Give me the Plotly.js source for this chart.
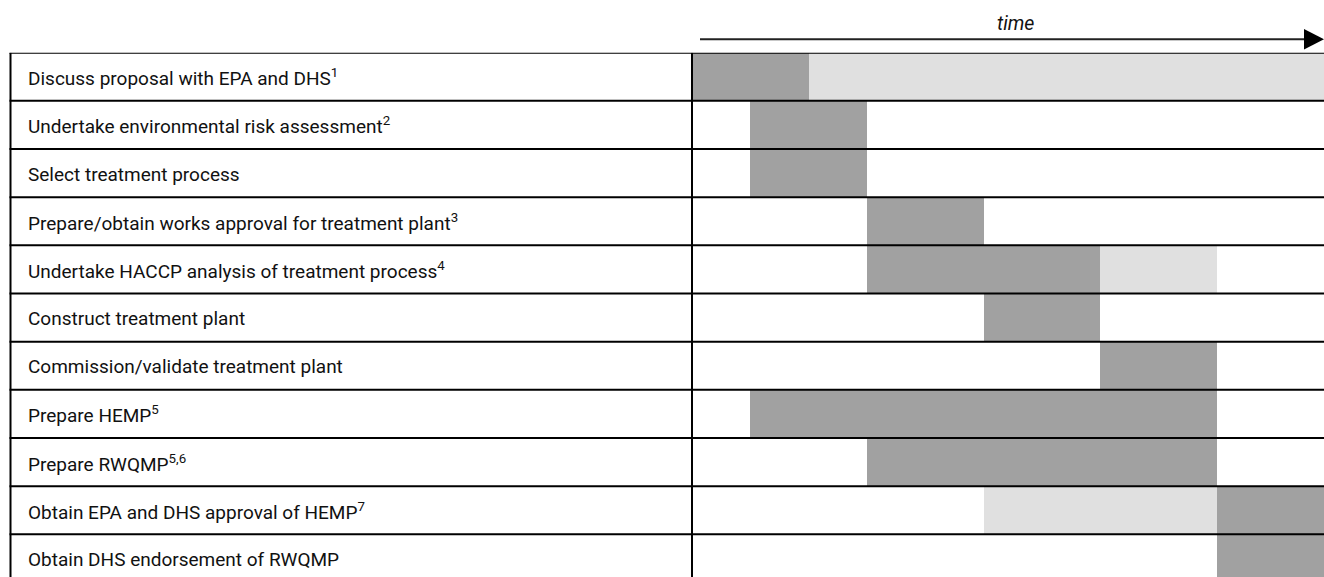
<!DOCTYPE html>
<html>
<head>
<meta charset="utf-8">
<script src="https://cdn.plot.ly/plotly-3.0.1.min.js"></script>
<style>html,body{margin:0;padding:0;background:#fff;}#chart{width:1324px;height:577px;}</style>
</head>
<body>
<div id="chart"></div>
<script>
// Tasks (rows, top to bottom)
const tasks = [
  "Discuss proposal with EPA and DHS<sup>1</sup>",
  "Undertake environmental risk assessment<sup>2</sup>",
  "Select treatment process",
  "Prepare/obtain works approval for treatment plant<sup>3</sup>",
  "Undertake HACCP analysis of treatment process<sup>4</sup>",
  "Construct treatment plant",
  "Commission/validate treatment plant",
  "Prepare HEMP<sup>5</sup>",
  "Prepare RWQMP<sup>5,6</sup>",
  "Obtain EPA and DHS approval of HEMP<sup>7</sup>",
  "Obtain DHS endorsement of RWQMP"
];
// Main activity periods (dark), in time periods
const activeStart = [0, 1, 1, 3, 3, 5, 7, 1, 3, 9, 9];
const activeEnd   = [2, 3, 3, 5, 7, 7, 9, 9, 9, 11, 11];
// Ongoing / follow-up periods (light); null = none
const ongoingStart = [2, null, null, null, 7, null, null, null, null, 5, null];
const ongoingEnd   = [11, null, null, null, 9, null, null, null, null, 9, null];
const axisLabel = "time";

const W = 1324, H = 577;
const plotLeft = 692, plotTop = 52.7, colW = 58.3, rowH = 48.16, tableLeft = 10.5;
const nRows = tasks.length;
const rowY = tasks.map((t, i) => i + 0.5);
const FONT = 'Roboto, "Open Sans", sans-serif';

const dark = {
  type: 'bar', orientation: 'h',
  y: rowY,
  base: activeStart,
  x: activeStart.map((s, i) => activeEnd[i] - s),
  width: 1,
  marker: {color: '#a1a1a1', line: {width: 0}},
  hoverinfo: 'skip', showlegend: false
};
const lightIdx = ongoingStart.map((s, i) => s === null ? -1 : i).filter(i => i >= 0);
const light = {
  type: 'bar', orientation: 'h',
  y: lightIdx.map(i => rowY[i]),
  base: lightIdx.map(i => ongoingStart[i]),
  x: lightIdx.map(i => ongoingEnd[i] - ongoingStart[i]),
  width: 1,
  marker: {color: '#e0e0e0', line: {width: 0}},
  hoverinfo: 'skip', showlegend: false
};

const px = x => x / W;
const py = y => 1 - y / H;

const shapes = [];
for (let k = 0; k <= nRows; k++) {
  shapes.push({type: 'line', xref: 'paper', yref: 'y', x0: px(tableLeft - 1), x1: 1, y0: k, y1: k,
    line: {color: '#000', width: 2}, layer: 'above'});
}
// vertical borders
shapes.push({type: 'line', xref: 'paper', yref: 'y', x0: px(tableLeft), x1: px(tableLeft), y0: 0, y1: nRows,
  line: {color: '#000', width: 2}, layer: 'above'});
shapes.push({type: 'line', xref: 'paper', yref: 'y', x0: px(plotLeft), x1: px(plotLeft), y0: 0, y1: nRows,
  line: {color: '#000', width: 2}, layer: 'above'});
// time arrow
shapes.push({type: 'line', xref: 'paper', yref: 'paper', x0: px(700), x1: px(1306), y0: py(39.3), y1: py(39.3),
  line: {color: '#222', width: 2}});
shapes.push({type: 'path', xref: 'paper', yref: 'paper',
  path: `M ${px(1304)} ${py(29)} L ${px(1324)} ${py(39.3)} L ${px(1304)} ${py(49.5)} Z`,
  fillcolor: '#000', line: {width: 0}});

const annotations = tasks.map((t, i) => ({
  xref: 'paper', yref: 'y', x: px(25.5), y: rowY[i], xanchor: 'left', yanchor: 'middle', yshift: -1,
  text: t, showarrow: false, font: {family: FONT, size: 19, color: '#111'}
}));
annotations.push({xref: 'paper', yref: 'paper', x: px(1015), y: py(23.5), xanchor: 'center', yanchor: 'middle',
  text: '<i>' + axisLabel + '</i>', showarrow: false, font: {family: FONT, size: 19.5, color: '#111'}});

const layout = {
  width: W, height: H,
  margin: {l: 0, r: 0, t: 0, b: 0, pad: 0},
  paper_bgcolor: '#fff', plot_bgcolor: '#fff',
  barmode: 'overlay', bargap: 0,
  showlegend: false,
  xaxis: {domain: [px(plotLeft), 1], range: [0, (W - plotLeft) / colW], showgrid: false, zeroline: false,
    showticklabels: false, ticks: '', showline: false, fixedrange: true},
  yaxis: {domain: [0, py(plotTop)], range: [(H - plotTop) / rowH, 0], showgrid: false, zeroline: false,
    showticklabels: false, ticks: '', showline: false, fixedrange: true},
  shapes: shapes,
  annotations: annotations
};

Plotly.newPlot('chart', [dark, light], layout, {displayModeBar: false, staticPlot: true});
</script>
</body>
</html>
